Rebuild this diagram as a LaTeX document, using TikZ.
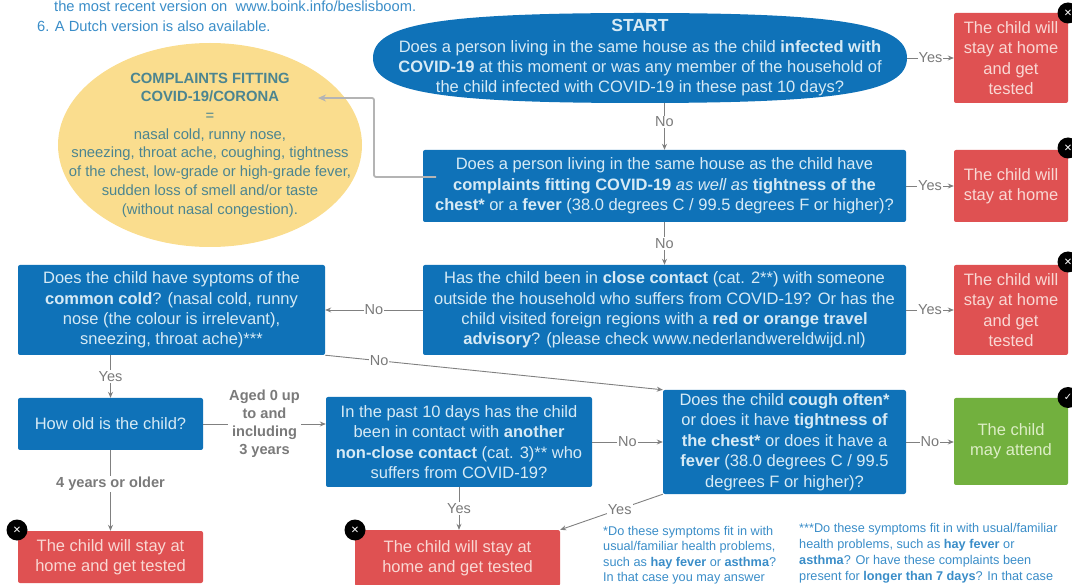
\documentclass[tikz,border=0pt]{standalone}
\usepackage{fontspec}
\setmainfont{Liberation Sans}
\newfontfamily\dejavu{DejaVu Sans}
\usetikzlibrary{shapes.geometric,arrows.meta}
\definecolor{bluebox}{HTML}{0F72B8}
\definecolor{redbox}{HTML}{DF5152}
\definecolor{greenbox}{HTML}{72B03E}
\definecolor{yellowbox}{HTML}{FADD8E}
\definecolor{boxtext}{HTML}{D6EAF5}
\definecolor{redtext}{HTML}{F9D8D4}
\definecolor{greentext}{HTML}{DDEEC6}
\definecolor{noteblue}{HTML}{3A8DC8}
\definecolor{yellowtext}{HTML}{4C8590}
\definecolor{linegrey}{HTML}{808080}
\definecolor{softgrey}{HTML}{B4B4B4}
\definecolor{labelgrey}{HTML}{7A7A7A}
\tikzset{
  x=1pt,y=-1pt,
  flowbox/.style={rectangle,rounded corners=2pt,inner sep=0pt,align=center,font=\fontsize{16.5}{20.4}\selectfont},
  bluenode/.style={flowbox,fill=bluebox,text=boxtext},
  rednode/.style={flowbox,fill=redbox,text=redtext},
  greennode/.style={flowbox,fill=greenbox,text=greentext},
  conn/.style={draw=linegrey,line width=0.9pt,-{Stealth[length=6pt,width=5pt]}},
  softconn/.style={draw=softgrey,line width=1.8pt,rounded corners=2pt,-{Stealth[length=8pt,width=7pt]}},
  lab/.style={fill=white,inner sep=1pt,text=labelgrey,font=\fontsize{14.5}{16}\selectfont,align=center},
  boldlab/.style={lab,font=\bfseries\fontsize{14.6}{18}\selectfont},
  badge/.style={circle,fill=black,text=white,minimum size=21pt,inner sep=0pt,font=\dejavu\bfseries\fontsize{10}{10}\selectfont},
  notetext/.style={inner sep=0pt,anchor=north west,align=left,text=noteblue,font=\fontsize{12.7}{15.5}\selectfont},
  notewide/.style={notetext,font=\fontsize{12.7}{16}\selectfont},
  toptext/.style={inner sep=0pt,anchor=west,text=noteblue,font=\fontsize{14.7}{14}\selectfont},
}
\begin{document}
\begin{tikzpicture}
\useasboundingbox (0,0) rectangle (1072,585);
% top text
\node[toptext] (t1) at (54,6) {the most recent version on\ \ www.boink.info/beslisboom.};
\node[toptext] (t2) at (37,26) {6. A Dutch version is also available.};
% yellow ellipse
\node[ellipse,fill=yellowbox,minimum width=304pt,minimum height=204pt,inner sep=0pt] (info) at (210,145) {};
\node[inner sep=0pt,align=center,text=yellowtext,font=\fontsize{14.8}{18.7}\selectfont] (infotext) at (info.center)
 {\textbf{COMPLAINTS FITTING}\\\textbf{COVID-19/CORONA}\\=\\nasal cold, runny nose,\\sneezing, throat ache, coughing, tightness\\of the chest, low-grade or high-grade fever,\\sudden loss of smell and/or taste\\(without nasal congestion).};
% start: a full-bodied oval
\fill[bluebox] (373,58) .. controls (373,24) and (438,13) .. (640,13) .. controls (842,13) and (907,24) .. (907,58) .. controls (907,92) and (842,103) .. (640,103) .. controls (438,103) and (373,92) .. (373,58) -- cycle;
\node[rectangle,minimum width=534pt,minimum height=90pt,inner sep=0pt,text=boxtext,align=center,font=\fontsize{16.5}{20.4}\selectfont] (start) at (640,58)
 {{\bfseries\fontsize{17.5}{20}\selectfont START}\\Does a person living in the same house as the child \textbf{infected with}\\\textbf{COVID-19} at this moment or was any member of the household of\\the child infected with COVID-19 in these past 10 days?};
% question boxes
\node[bluenode,minimum width=483pt,minimum height=72pt] (house) at (664.5,186)
 {Does a person living in the same house as the child have\\\textbf{complaints fitting COVID-19} \textit{as well as} \textbf{tightness of the}\\\textbf{chest*} or a \textbf{fever} (38.0 degrees C / 99.5 degrees F or higher)?};
\node[bluenode,minimum width=483pt,minimum height=90pt] (close) at (664.5,310)
 {Has the child been in \textbf{close contact} (cat. 2**) with someone\\outside the household who suffers from COVID-19? Or has the\\child visited foreign regions with a \textbf{red or orange travel}\\\textbf{advisory}? (please check www.nederlandwereldwijd.nl)};
\node[bluenode,minimum width=307pt,minimum height=90pt] (cold) at (171.5,310)
 {Does the child have syptoms of the\\\textbf{common cold}? (nasal cold, runny\\nose (the colour is irrelevant),\\sneezing, throat ache)***};
\node[bluenode,minimum width=185pt,minimum height=52pt] (age) at (110.5,424) {How old is the child?};
\node[bluenode,minimum width=266pt,minimum height=90pt] (contact) at (459,442)
 {In the past 10 days has the child\\been in contact with \textbf{another}\\\textbf{non-close contact} (cat. 3)** who\\suffers from COVID-19?};
\node[bluenode,minimum width=243pt,minimum height=104pt] (cough) at (784.5,442)
 {Does the child \textbf{cough often*}\\or does it have \textbf{tightness of}\\\textbf{the chest*} or does it have a\\\textbf{fever} (38.0 degrees C / 99.5\\degrees F or higher)?};
% outcomes
\node[rednode,minimum width=114pt,minimum height=90pt] (r1) at (1011,58) {The child will\\stay at home\\and get\\tested};
\node[rednode,minimum width=114pt,minimum height=72pt] (r2) at (1011,186) {The child will\\stay at home};
\node[rednode,minimum width=114pt,minimum height=90pt] (r3) at (1011,310) {The child will\\stay at home\\and get\\tested};
\node[greennode,minimum width=114pt,minimum height=87pt] (g1) at (1011,441.5) {The child\\may attend};
\node[rednode,minimum width=185pt,minimum height=52pt] (r4) at (110.5,557) {The child will stay at\\home and get tested};
\node[rednode,minimum width=205pt,minimum height=56pt] (r5) at (457.5,558) {The child will stay at\\home and get tested};
% badges
\node[badge] (b1) at (1068,13) {✕};
\node[badge] (b2) at (1068,148) {✕};
\node[badge] (b3) at (1068,262) {✕};
\node[badge] (b4) at (1068,397.5) {✓};
\node[badge] (b5) at (17,530) {✕};
\node[badge] (b6) at (355,530) {✕};
% notes
\node[notetext] (n1) at (603,526) {*Do these symptoms fit in with\\usual/familiar health problems,\\such as \textbf{hay fever} or \textbf{asthma}?\\In that case you may answer};
\node[notewide] (n2) at (799,523) {***Do these symptoms fit in with usual/familiar\\health problems, such as \textbf{hay fever} or\\\textbf{asthma}? Or have these complaints been\\present for \textbf{longer than 7 days}? In that case};
% connectors
\coordinate (infoend) at (318,98);
\coordinate (housefrom) at (436,177);
\draw[softconn] (housefrom) -| (374,98) -- (infoend);
\draw[conn] (start.east) -- node[lab]{Yes} (start.east -| r1.west);
\draw[conn] (house.east) -- node[lab]{Yes} (r2.west);
\draw[conn] (close.east) -- node[lab]{Yes} (r3.west);
\draw[conn] (cough.east) -- node[lab]{No} (cough.east -| g1.west);
\draw[conn] (house.north |- start.south) -- node[lab,pos=0.4]{No} (house.north);
\draw[conn] (house.south) -- node[lab]{No} (close.north);
\draw[conn] (close.west) -- node[lab]{No} (cold.east);
\draw[conn] (cold.south east) -- node[lab,pos=0.16]{No} (cough.north west);
\draw[conn] (age.north |- cold.south) -- node[lab]{Yes} (age.north);
\draw[conn] (age.east) -- node[boldlab]{Aged 0 up\\to and\\including\\3 years} (age.east -| contact.west);
\draw[conn] (age.south) -- node[boldlab,pos=0.42]{4 years or older} (r4.north);
\draw[conn] (contact.south) -- node[lab]{Yes} (contact.south |- r5.north);
\draw[conn] (contact.east |- cough.west) -- node[lab]{No} (cough.west);
\draw[conn] (cough.south west) -- node[lab,pos=0.42]{Yes} (r5.north east);
\end{tikzpicture}
\end{document}
